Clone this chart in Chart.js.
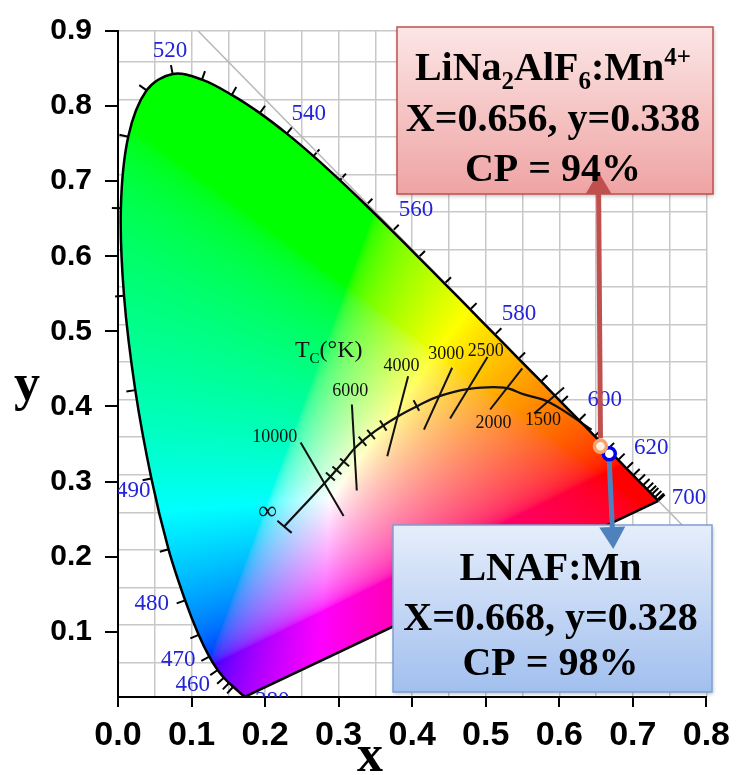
<!DOCTYPE html>
<html>
<head>
<meta charset="utf-8">
<title>CIE 1931 chromaticity</title>
<script src="https://cdn.jsdelivr.net/npm/chart.js@4.4.1/dist/chart.umd.min.js"></script>
<style>
  body { margin: 0; background: #fff; }
  canvas { display: block; }
</style>
</head>
<body>
<canvas id="cie" width="738" height="775"></canvas>
<script>
// CIE 1931 spectral locus (2 deg observer)
const waveNm = [380, 400, 420, 430, 440, 450, 455, 460, 465, 470, 475, 480, 485, 490, 495, 500, 505, 510, 515, 520,
  525, 530, 535, 540, 545, 550, 555, 560, 565, 570, 575, 580, 585, 590, 595, 600, 605, 610, 615, 620,
  625, 630, 635, 640, 645, 650, 660, 680, 700];
const locusX = [0.1741, 0.1733, 0.1714, 0.1689, 0.1644, 0.1566, 0.1510, 0.1440, 0.1355, 0.1241, 0.1096, 0.0913, 0.0687, 0.0454, 0.0235, 0.0082, 0.0039, 0.0139, 0.0389, 0.0743,
  0.1142, 0.1547, 0.1929, 0.2296, 0.2658, 0.3016, 0.3373, 0.3731, 0.4087, 0.4441, 0.4788, 0.5125, 0.5448, 0.5752, 0.6029, 0.6270, 0.6482, 0.6658, 0.6801, 0.6915,
  0.7006, 0.7079, 0.7140, 0.7190, 0.7230, 0.7260, 0.7300, 0.7334, 0.7347];
const locusY = [0.0050, 0.0048, 0.0051, 0.0069, 0.0109, 0.0177, 0.0227, 0.0297, 0.0399, 0.0578, 0.0868, 0.1327, 0.2007, 0.2950, 0.4127, 0.5384, 0.6548, 0.7502, 0.8120, 0.8338,
  0.8262, 0.8059, 0.7816, 0.7543, 0.7243, 0.6923, 0.6589, 0.6245, 0.5896, 0.5547, 0.5202, 0.4866, 0.4544, 0.4242, 0.3965, 0.3725, 0.3514, 0.3340, 0.3197, 0.3083,
  0.2993, 0.2920, 0.2859, 0.2809, 0.2770, 0.2740, 0.2700, 0.2666, 0.2653];

// wavelength captions
const waveLabel = [460, 470, 480, 490, 520, 540, 560, 580, 600, 620, 700, 380];
const waveLabelX = [0.1016, 0.0818, 0.0459, 0.0206, 0.0706, 0.2595, 0.4053, 0.5452, 0.6617, 0.7251, 0.7764, 0.2096];
const waveLabelY = [0.0197, 0.0530, 0.1280, 0.2780, 0.8650, 0.7810, 0.6530, 0.5140, 0.3990, 0.3360, 0.2690, -0.0017];

// Planckian locus, infinity -> ~1000 K
const planckX = [0.226, 0.281, 0.309, 0.3225, 0.3495, 0.381, 0.408, 0.435, 0.4755, 0.525, 0.552, 0.5875, 0.644];
const planckY = [0.231, 0.289, 0.320, 0.336, 0.358, 0.378, 0.392, 0.404, 0.414, 0.416, 0.407, 0.396, 0.360];

// isotemperature lines
const isoTemp = ['10000', '6000', '4000', '3000', '2500', '2000', '1500'];
const isoX1 = [0.2483, 0.3180, 0.3945, 0.4543, 0.5024, 0.5497, 0.6065];
const isoY1 = [0.3430, 0.3935, 0.4313, 0.4425, 0.4567, 0.4416, 0.4162];
const isoX2 = [0.3067, 0.3247, 0.3661, 0.4160, 0.4516, 0.5060, 0.5659];
const isoY2 = [0.2450, 0.2790, 0.3245, 0.3602, 0.3748, 0.3869, 0.3815];
const isoLabelX = [0.2130, 0.3158, 0.3854, 0.4462, 0.5001, 0.5105, 0.5780];
const isoLabelY = [0.3500, 0.4113, 0.4447, 0.4603, 0.4647, 0.3682, 0.3720];

// small ticks along the Planckian locus
const miredX = [0.2888, 0.2977, 0.3081, 0.3324, 0.3441, 0.3607, 0.4057];
const miredY = [0.2978, 0.3058, 0.3165, 0.3445, 0.3535, 0.3655, 0.3922];

// end bar at T = infinity
const infBarX = [0.2167, 0.2361];
const infBarY = [0.2387, 0.2226];

// measured phosphors
const sampleName = ['LiNa_2AlF_6:Mn^{4+}', 'LNAF:Mn'];
const sampleX = [0.656, 0.668];
const sampleY = [0.338, 0.328];
const sampleCP = [94, 98];

// axes
const xTicks = [0, 0.1, 0.2, 0.3, 0.4, 0.5, 0.6, 0.7, 0.8];
const yTicks = [0.1, 0.2, 0.3, 0.4, 0.5, 0.6, 0.7, 0.8, 0.9];
const Y_MIN = 0.013, Y_MAX = 0.9;
// the chromaticity layer (grid, locus, markers) sits a little above the labelled y axis
const LAYER_SHIFT = 0.009;

const toPts = (xs, ys) => xs.map((x, i) => ({ x, y: ys[i] }));

const SERIF = '"Liberation Serif", "Times New Roman", serif';
const SANS = '"Liberation Sans", Arial, sans-serif';

// ---- colour field ----
const WHITE_X = 0.29, WHITE_Y = 0.27;
const KX = 0.9505 / (WHITE_X / WHITE_Y);
const KZ = 1.089 / ((1 - WHITE_X - WHITE_Y) / WHITE_Y);

function gammaEnc(c) {
  return c <= 0.0031308 ? 12.92 * c : 1.055 * Math.pow(c, 1 / 2.4) - 0.055;
}

function chromaRgb(x, y, out) {
  const yy = Math.max(y, 1e-4);
  const X = x / yy * KX, Z = (1 - x - yy) / yy * KZ;
  let r = Math.max(0, 3.2406 * X - 1.5372 - 0.4986 * Z);
  let g = Math.max(0, -0.9689 * X + 1.8758 + 0.0415 * Z);
  let b = Math.max(0, 0.0557 * X - 0.2040 + 1.0570 * Z);
  const m = Math.max(r, g, b) || 1;
  out[0] = 255 * gammaEnc(r / m);
  out[1] = 255 * gammaEnc(g / m);
  out[2] = 255 * gammaEnc(b / m);
}

let fieldCanvas = null;
function buildField(chart) {
  const area = chart.chartArea;
  const w = Math.ceil(area.right - area.left), h = Math.ceil(area.bottom - area.top);
  const off = document.createElement('canvas');
  off.width = w; off.height = h;
  const octx = off.getContext('2d');
  const img = octx.createImageData(w, h);
  const sx = chart.scales.x, sy = chart.scales.yd;
  const xs = [];
  for (let i = 0; i < w; i++) xs.push(sx.getValueForPixel(area.left + i + 0.5));
  const rgb = [0, 0, 0];
  for (let j = 0; j < h; j++) {
    const yv = sy.getValueForPixel(area.top + j + 0.5);
    for (let i = 0; i < w; i++) {
      chromaRgb(xs[i], yv, rgb);
      const k = (j * w + i) * 4;
      img.data[k] = rgb[0]; img.data[k + 1] = rgb[1]; img.data[k + 2] = rgb[2]; img.data[k + 3] = 255;
    }
  }
  octx.putImageData(img, 0, 0);
  return off;
}

// text with _sub and ^{sup} parts
function parseRich(s) {
  const parts = [];
  const re = /_(\w)|\^\{([^}]*)\}|([^_^]+)/g;
  let m;
  while ((m = re.exec(s))) {
    if (m[1]) parts.push([m[1], 'sub']);
    else if (m[2]) parts.push([m[2], 'sup']);
    else parts.push([m[3], '']);
  }
  return parts;
}

function drawRich(ctx, parts, cx, base, size, family, weight) {
  const font = k => `${weight} ${k ? Math.round(size * 0.62) : size}px ${family}`;
  let total = 0;
  parts.forEach(([t, k]) => { ctx.font = font(k); total += ctx.measureText(t).width; });
  let x = cx - total / 2;
  ctx.textAlign = 'left';
  ctx.textBaseline = 'alphabetic';
  parts.forEach(([t, k]) => {
    ctx.font = font(k);
    const dy = k === 'sub' ? size * 0.22 : k === 'sup' ? -size * 0.38 : 0;
    ctx.fillText(t, x, base + dy);
    x += ctx.measureText(t).width;
  });
}

function arrow(ctx, x1, y1, x2, y2, color) {
  const ang = Math.atan2(y2 - y1, x2 - x1);
  const head = 22, half = 13;
  const bx = x2 - Math.cos(ang) * head, by = y2 - Math.sin(ang) * head;
  ctx.save();
  ctx.strokeStyle = color; ctx.fillStyle = color;
  ctx.lineWidth = 5;
  ctx.beginPath(); ctx.moveTo(x1, y1); ctx.lineTo(bx, by); ctx.stroke();
  ctx.beginPath();
  ctx.moveTo(x2, y2);
  ctx.lineTo(bx + Math.sin(ang) * half, by - Math.cos(ang) * half);
  ctx.lineTo(bx - Math.sin(ang) * half, by + Math.cos(ang) * half);
  ctx.closePath(); ctx.fill();
  ctx.restore();
}

function calloutBox(ctx, box, top, bottom, stroke) {
  ctx.save();
  ctx.shadowColor = 'rgba(0,0,0,0.25)';
  ctx.shadowBlur = 4; ctx.shadowOffsetX = 1; ctx.shadowOffsetY = 2;
  const g = ctx.createLinearGradient(0, box.t, 0, box.b);
  g.addColorStop(0, top); g.addColorStop(1, bottom);
  ctx.fillStyle = g;
  ctx.fillRect(box.l, box.t, box.r - box.l, box.b - box.t);
  ctx.shadowColor = 'transparent';
  ctx.strokeStyle = stroke; ctx.lineWidth = 1.5;
  ctx.strokeRect(box.l, box.t, box.r - box.l, box.b - box.t);
  ctx.restore();
}

const LOCUS = 2;

const cieLayer = {
  id: 'cieLayer',
  beforeDatasetsDraw(chart) {
    const ctx = chart.ctx, area = chart.chartArea;
    if (!fieldCanvas) fieldCanvas = buildField(chart);
    const meta = chart.getDatasetMeta(LOCUS);
    const pts = meta.data;
    ctx.save();
    ctx.beginPath();
    ctx.rect(area.left, area.top, area.right - area.left, area.bottom - area.top);
    ctx.clip();
    ctx.beginPath();
    const line = meta.dataset;
    if (line && typeof line.path === 'function') {
      if (line.updateControlPoints) line.updateControlPoints(area, 'x');
      line.path(ctx);
    } else {
      pts.forEach((p, i) => i ? ctx.lineTo(p.x, p.y) : ctx.moveTo(p.x, p.y));
    }
    ctx.closePath();
    ctx.clip();
    ctx.drawImage(fieldCanvas, area.left, area.top);
    ctx.restore();

    // wavelength ticks, pointing out of the horseshoe
    ctx.save();
    ctx.strokeStyle = '#000'; ctx.lineWidth = 2;
    ctx.beginPath();
    for (let i = 0; i < pts.length; i++) {
      if (waveNm[i] < 450) continue;
      const a = pts[Math.max(i - 1, 0)], b = pts[Math.min(i + 1, pts.length - 1)], p = pts[i];
      const dx = b.x - a.x, dy = b.y - a.y, len = Math.hypot(dx, dy) || 1;
      ctx.moveTo(p.x, p.y);
      ctx.lineTo(p.x + dy / len * 9, p.y - dx / len * 9);
    }
    ctx.stroke();
    ctx.restore();
  },
  afterDatasetsDraw(chart) {
    const ctx = chart.ctx, area = chart.chartArea;
    const sx = chart.scales.x, sy = chart.scales.yd;
    ctx.save();
    ctx.beginPath();
    ctx.rect(area.left, area.top, area.right - area.left, area.bottom - area.top);
    ctx.clip();
    ctx.textAlign = 'center'; ctx.textBaseline = 'middle';
    ctx.fillStyle = '#2323d8';
    ctx.font = `23px ${SERIF}`;
    waveLabel.forEach((w, i) => {
      ctx.fillText(String(w), sx.getPixelForValue(waveLabelX[i]), sy.getPixelForValue(waveLabelY[i]));
    });
    ctx.fillStyle = '#111';
    ctx.font = `18px ${SERIF}`;
    isoTemp.forEach((t, i) => {
      ctx.fillText(t, sx.getPixelForValue(isoLabelX[i]), sy.getPixelForValue(isoLabelY[i]));
    });
    ctx.font = `26px ${SERIF}`;
    ctx.fillText('\u221e', sx.getPixelForValue(0.2032), sy.getPixelForValue(0.2497));
    drawRich(ctx, [['T', ''], ['C', 'sub'], ['(\u00b0K)', '']],
      sx.getPixelForValue(0.2865), sy.getPixelForValue(0.467) + 8, 24, SERIF, 'normal');
    ctx.restore();
  },
  afterDraw(chart) {
    const ctx = chart.ctx;
    const sx = chart.scales.x, sy = chart.scales.yd;
    const pinkBox = { l: 397, t: 27, r: 713, b: 194 };
    const blueBox = { l: 393, t: 525, r: 712, b: 692 };

    const ox = sx.getPixelForValue(sampleX[0]), oy = sy.getPixelForValue(sampleY[0]);
    const bx = sx.getPixelForValue(sampleX[1]), by = sy.getPixelForValue(sampleY[1]);

    calloutBox(ctx, pinkBox, '#fce6e6', '#efa3a3', '#c0504d');
    calloutBox(ctx, blueBox, '#e6eefb', '#a1bfee', '#7f9fd2');
    arrow(ctx, ox, oy - 8, ox - 2, pinkBox.b - 22, '#c0504d');
    arrow(ctx, bx, by + 8, bx + 4, blueBox.t + 24, '#4f81bd');

    ctx.fillStyle = '#000';
    const boxes = [pinkBox, blueBox];
    const bases = [[80, 131, 181], [580, 630, 675]];
    boxes.forEach((box, i) => {
      const cx = (box.l + box.r) / 2 - 2;
      drawRich(ctx, parseRich(sampleName[i]), cx, bases[i][0], 40, SERIF, 'bold');
      drawRich(ctx, [[`X=${sampleX[i].toFixed(3)}, y=${sampleY[i].toFixed(3)}`, '']], cx, bases[i][1], 40, SERIF, 'bold');
      drawRich(ctx, [[`CP = ${sampleCP[i]}%`, '']], cx, bases[i][2], 40, SERIF, 'bold');
    });

    // axis letters
    ctx.font = `bold 52px ${SERIF}`;
    ctx.textAlign = 'center'; ctx.textBaseline = 'alphabetic';
    ctx.fillText('y', 27, 400);
    ctx.fillText('x', 370, 771);
  }
};

const datasets = [
  {
    type: 'scatter', label: 'LiNa2AlF6:Mn4+', yAxisID: 'yd',
    data: [{ x: sampleX[0], y: sampleY[0] }],
    pointRadius: 6, borderWidth: 3.5, borderColor: '#f5a26c', backgroundColor: '#fff1e4'
  },
  {
    type: 'scatter', label: 'LNAF:Mn', yAxisID: 'yd',
    data: [{ x: sampleX[1], y: sampleY[1] }],
    pointRadius: 6, borderWidth: 3.5, borderColor: '#0000e6', backgroundColor: '#ffffff'
  },
  {
    label: 'spectral locus', yAxisID: 'yd',
    data: toPts(locusX, locusY),
    borderColor: '#000', borderWidth: 2.5, pointRadius: 0, tension: 0.35, fill: false
  },
  {
    label: 'line of purples', yAxisID: 'yd',
    data: [{ x: locusX[locusX.length - 1], y: locusY[locusY.length - 1] }, { x: locusX[0], y: locusY[0] }],
    borderColor: '#000', borderWidth: 2.5, pointRadius: 0
  },
  {
    label: 'Planckian locus', yAxisID: 'yd',
    data: toPts(planckX, planckY),
    borderColor: '#111', borderWidth: 2.2, pointRadius: 0, tension: 0.4
  },
  ...isoTemp.map((t, i) => ({
    label: t + ' K', yAxisID: 'yd',
    data: [{ x: isoX1[i], y: isoY1[i] }, { x: isoX2[i], y: isoY2[i] }],
    borderColor: '#111', borderWidth: 2, pointRadius: 0
  })),
  {
    label: 'infinity', yAxisID: 'yd',
    data: toPts(infBarX, infBarY),
    borderColor: '#111', borderWidth: 2, pointRadius: 0
  },
  {
    type: 'scatter', label: 'mired ticks', yAxisID: 'yd',
    data: toPts(miredX, miredY),
    pointStyle: 'line', pointRadius: 6, borderWidth: 2, borderColor: '#111',
    rotation: ctx => {
      const sx = ctx.chart.scales.x, sy = ctx.chart.scales.yd;
      const xv = miredX[ctx.dataIndex];
      let k = 0;
      while (k < planckX.length - 2 && planckX[k + 1] < xv) k++;
      const dx = sx.getPixelForValue(planckX[k + 1]) - sx.getPixelForValue(planckX[k]);
      const dy = sy.getPixelForValue(planckY[k + 1]) - sy.getPixelForValue(planckY[k]);
      return Math.atan2(dy, dx) * 180 / Math.PI + 90;
    }
  },
  {
    label: 'x + y = 1', yAxisID: 'yd',
    data: [{ x: 0.1, y: 0.9 }, { x: 0.8, y: 0.2 }],
    borderColor: '#b8b8b8', borderWidth: 1.5, pointRadius: 0
  }
];

new Chart(document.getElementById('cie'), {
  type: 'line',
  data: { datasets },
  options: {
    responsive: false,
    animation: false,
    layout: { padding: { top: 31, right: 26, left: 0, bottom: 0 } },
    plugins: { legend: { display: false }, tooltip: { enabled: false } },
    scales: {
      x: {
        type: 'linear', position: 'bottom', min: 0, max: 0.8,
        afterBuildTicks: s => { s.ticks = xTicks.map(v => ({ value: v })); },
        ticks: {
          callback: v => v.toFixed(1), color: '#000', padding: 8, maxRotation: 0, autoSkip: false,
          font: { family: SANS, size: 34, weight: 'bold' }
        },
        grid: { drawOnChartArea: false, tickLength: 10, color: '#000', lineWidth: 2 },
        border: { color: '#000', width: 2 },
        afterFit: s => { s.height = 78; }
      },
      xd: {
        type: 'linear', position: 'bottom', min: 0, max: 0.8,
        afterBuildTicks: s => {
          s.ticks = [];
          for (let v = 0.05; v < 0.801; v += 0.05) s.ticks.push({ value: +v.toFixed(2) });
        },
        ticks: { display: false },
        grid: { color: '#c8c8c8', lineWidth: 1.5, drawTicks: false },
        border: { display: false },
        afterFit: s => { s.height = 0; }
      },
      y: {
        type: 'linear', position: 'left', min: Y_MIN, max: Y_MAX,
        afterBuildTicks: s => { s.ticks = yTicks.map(v => ({ value: v })); },
        ticks: {
          callback: v => v.toFixed(1), color: '#000', padding: 13, autoSkip: false,
          font: { family: SANS, size: 30, weight: 'bold' }
        },
        grid: { drawOnChartArea: false, tickLength: 13, color: '#000', lineWidth: 2 },
        border: { color: '#000', width: 2 },
        afterFit: s => { s.width = 118; }
      },
      yd: {
        type: 'linear', position: 'left', min: Y_MIN - LAYER_SHIFT, max: Y_MAX - LAYER_SHIFT,
        afterBuildTicks: s => {
          s.ticks = [];
          for (let v = 0.05; v < s.max; v += 0.05) s.ticks.push({ value: +v.toFixed(2) });
          s.ticks.push({ value: s.max });
        },
        ticks: { display: false },
        grid: { color: '#c8c8c8', lineWidth: 1.5, drawTicks: false },
        border: { display: false },
        afterFit: s => { s.width = 0; }
      }
    }
  },
  plugins: [cieLayer]
});
</script>
</body>
</html>
